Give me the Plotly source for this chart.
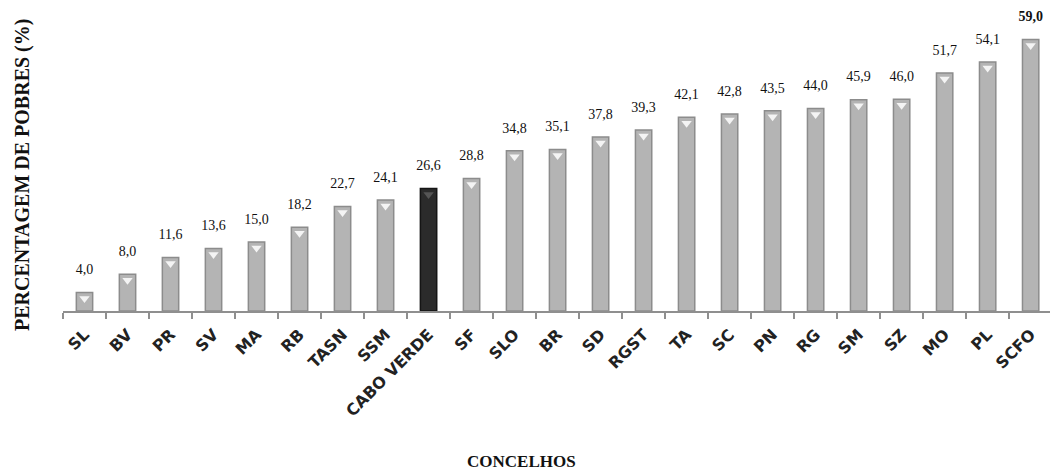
import plotly.graph_objects as go

categories = ["SL", "BV", "PR", "SV", "MA", "RB", "TASN", "SSM", "CABO VERDE", "SF", "SLO",
              "BR", "SD", "RGST", "TA", "SC", "PN", "RG", "SM", "SZ", "MO", "PL", "SCFO"]
values = [4.0, 8.0, 11.6, 13.6, 15.0, 18.2, 22.7, 24.1, 26.6, 28.8, 34.8,
          35.1, 37.8, 39.3, 42.1, 42.8, 43.5, 44.0, 45.9, 46.0, 51.7, 54.1, 59.0]

labels = [f"{v:.1f}".replace(".", ",") for v in values]
labels[-1] = "<b>" + labels[-1] + "</b>"
fill = ["#2b2b2b" if c == "CABO VERDE" else "#b4b4b4" for c in categories]
edge = ["#151515" if c == "CABO VERDE" else "#8c8c8c" for c in categories]

fig = go.Figure()
fig.add_trace(go.Bar(
    x=categories, y=values, width=0.38,
    marker=dict(color=fill, line=dict(color=edge, width=1.5)),
    hoverinfo="x+y",
))
fig.add_trace(go.Scatter(
    x=categories, y=[v - 1.3 for v in values], mode="markers",
    marker=dict(symbol="triangle-down", size=9,
                color=["#555" if c == "CABO VERDE" else "#f4f4f4" for c in categories],
                line=dict(width=0)),
    hoverinfo="skip", cliponaxis=False,
))
fig.add_trace(go.Scatter(
    x=categories, y=values, mode="markers+text", text=labels,
    textposition="top center", cliponaxis=False,
    marker=dict(size=22, opacity=0),
    textfont=dict(family="Liberation Serif", size=14, color="#111"),
    hoverinfo="skip",
))

W0 = 63
PW = 1050 - W0
fig.update_layout(
    width=1050, height=473,
    margin=dict(l=W0, r=0, t=15, b=162),
    plot_bgcolor="white", paper_bgcolor="white",
    showlegend=False,
    xaxis=dict(
        range=[-0.5, 22.45], showline=True, linecolor="#8f8f8f", linewidth=2,
        ticks="outside", tickson="boundaries", ticklen=6, tickwidth=2, tickcolor="#8f8f8f",
        tickangle=-45, ticklabelstandoff=6,
        tickfont=dict(family="DejaVu Sans", size=16, color="#222", weight="bold"),
        showgrid=False, automargin=False,
    ),
    yaxis=dict(range=[0, 64.3], visible=False),
    annotations=[
        dict(text="<b>PERCENTAGEM DE POBRES (%)</b>", xref="paper", yref="paper",
             x=(22 - W0) / PW, xanchor="center", y=(311 - 175) / 296, yanchor="middle",
             textangle=-90, showarrow=False,
             font=dict(family="Liberation Serif", size=20, color="#111")),
        dict(text="<b>CONCELHOS</b>", xref="paper", yref="paper",
             x=(521 - W0) / PW, xanchor="center", y=-(461 - 311) / 296, yanchor="middle",
             showarrow=False, font=dict(family="Liberation Serif", size=17, color="#111")),
    ],
)

fig.write_html("out.html", config={"displayModeBar": False},
               post_script="document.body.style.margin='0';")
